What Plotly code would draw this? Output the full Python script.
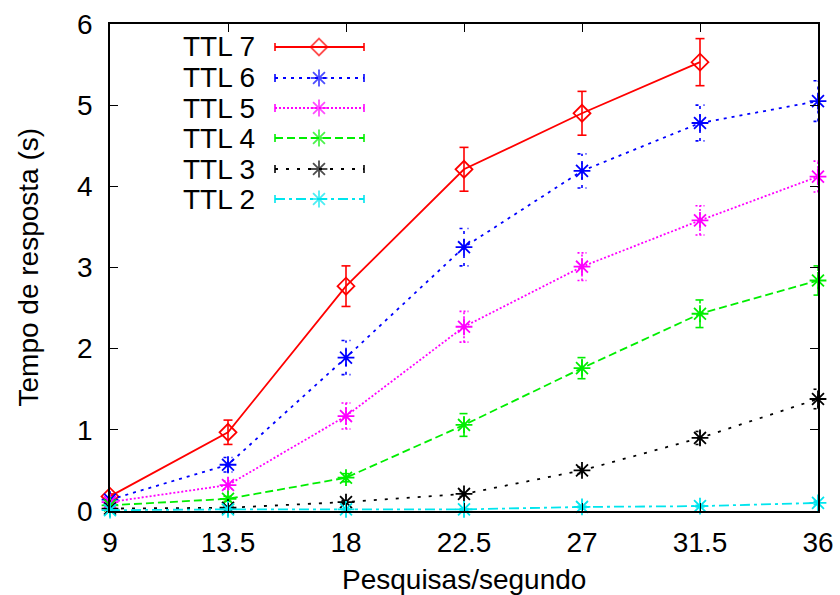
import plotly.graph_objects as go

# Request rate (queries per second)
rates = [9, 13.5, 18, 22.5, 27, 31.5, 36]
tick_labels = ["9", "13.5", "18", "22.5", "27", "31.5", "36"]

# Mean response time (s) and error half-widths per TTL
ttl7 = [0.18, 0.97, 2.77, 4.21, 4.90, 5.53]
ttl7_err = [0.03, 0.15, 0.25, 0.27, 0.27, 0.29]
ttl6 = [0.14, 0.57, 1.89, 3.25, 4.19, 4.78, 5.05]
ttl6_err = [0.03, 0.09, 0.21, 0.23, 0.21, 0.22, 0.25]
ttl5 = [0.11, 0.32, 1.17, 2.27, 3.01, 3.58, 4.12]
ttl5_err = [0.02, 0.05, 0.16, 0.19, 0.17, 0.18, 0.19]
ttl4 = [0.07, 0.15, 0.41, 1.06, 1.76, 2.43, 2.84]
ttl4_err = [0.01, 0.03, 0.05, 0.14, 0.13, 0.17, 0.18]
ttl3 = [0.03, 0.04, 0.11, 0.21, 0.50, 0.90, 1.38]
ttl3_err = [0.01, 0.01, 0.02, 0.03, 0.04, 0.08, 0.12]
ttl2 = [0.01, 0.02, 0.02, 0.02, 0.05, 0.06, 0.10]
ttl2_err = [0.0, 0.0, 0.0, 0.01, 0.01, 0.01, 0.02]

series_names = ["TTL 7", "TTL 6", "TTL 5", "TTL 4", "TTL 3", "TTL 2"]

FONT = "Liberation Sans, Arial, sans-serif"
W, H = 840, 595
L, R, T, B = 110, 22, 24, 84
X_MIN, X_MAX = 9, 36
CAP_X = 4.5 * (X_MAX - X_MIN) / (W - L - R)   # half-width of error caps, data units

styles = [
    dict(color="#ff0000", dash="solid", symbol="diamond-open", size=13),
    dict(color="#0000ff", dash="3px,5px", symbol="asterisk-open", size=14),
    dict(color="#ff00ff", dash="2px,2px", symbol="asterisk-open", size=14),
    dict(color="#00ee00", dash="8px,4px", symbol="asterisk-open", size=14),
    dict(color="#000000", dash="3px,8px", symbol="asterisk-open", size=14),
    dict(color="#00e5ee", dash="10px,4px,3px,4px", symbol="asterisk-open", size=14),
]
values = [ttl7, ttl6, ttl5, ttl4, ttl3, ttl2]
errors = [ttl7_err, ttl6_err, ttl5_err, ttl4_err, ttl3_err, ttl2_err]


def error_path(xs, ys, es):
    """Vertical error bars with end caps, drawn in the series' own line style."""
    px, py = [], []
    for x, y, e in zip(xs, ys, es):
        lo, hi = y - e, y + e
        px += [x, x, None, x - CAP_X, x + CAP_X, None, x - CAP_X, x + CAP_X, None]
        py += [lo, hi, None, lo, lo, None, hi, hi, None]
    return px, py


fig = go.Figure()

for name, ys, es, st in zip(series_names, values, errors, styles):
    xs = rates[:len(ys)]
    ex, ey = error_path(xs, ys, es)
    fig.add_trace(go.Scatter(
        x=ex, y=ey, mode="lines", connectgaps=False,
        line=dict(color=st["color"], width=1.6, dash=st["dash"]),
        cliponaxis=False, showlegend=False, hoverinfo="skip",
    ))
    fig.add_trace(go.Scatter(
        x=xs, y=ys, name=name, mode="lines+markers",
        line=dict(color=st["color"], width=1.8, dash=st["dash"]),
        marker=dict(symbol=st["symbol"], size=st["size"], color=st["color"],
                    line=dict(width=1.8, color=st["color"])),
        cliponaxis=False, showlegend=False,
    ))

# Key in the upper-left corner: label on the left, line sample on the right
def px_to_paper_x(px):
    return (px - L) / (W - L - R)

def px_to_paper_y(py):
    return (H - B - py) / (H - T - B)

key_rows = [47, 78, 108, 138, 169, 199]
sx0, sx1, sxm = px_to_paper_x(275), px_to_paper_x(364), px_to_paper_x(319)
cap = 4.0 / (H - T - B)
for name, st, py in zip(series_names, styles, key_rows):
    yp = px_to_paper_y(py)
    fig.add_trace(go.Scatter(
        x=[sx0, sxm, sx1], y=[yp, yp, yp], mode="lines+markers",
        xaxis="x2", yaxis="y2",
        line=dict(color=st["color"], width=1.8, dash=st["dash"]),
        marker=dict(symbol=st["symbol"], size=[0, st["size"], 0], color=st["color"],
                    line=dict(width=1.8, color=st["color"])),
        error_y=dict(type="data", array=[cap, 0, cap], visible=True,
                     color=st["color"], thickness=1.6, width=0),
        cliponaxis=False, showlegend=False, hoverinfo="skip",
    ))
    fig.add_annotation(
        x=px_to_paper_x(257), y=yp, xref="paper", yref="paper",
        text=name, showarrow=False, xanchor="right", yanchor="middle",
        font=dict(family=FONT, size=28, color="black"),
    )

# Axis titles
fig.add_annotation(
    x=0.5, y=px_to_paper_y(579), xref="paper", yref="paper",
    text="Pesquisas/segundo", showarrow=False, xanchor="center", yanchor="middle",
    font=dict(family=FONT, size=28, color="black"),
)
fig.add_annotation(
    x=px_to_paper_x(28), y=0.5, xref="paper", yref="paper",
    text="Tempo de resposta (s)", showarrow=False, textangle=-90,
    xanchor="center", yanchor="middle",
    font=dict(family=FONT, size=28, color="black"),
)

axis_common = dict(
    showline=True, linecolor="black", linewidth=1.5, mirror="ticks",
    ticks="inside", ticklen=8, tickwidth=1.2, tickcolor="black",
    showgrid=False, zeroline=False, automargin=False,
    tickfont=dict(family=FONT, size=28, color="black"),
)

fig.update_layout(
    width=W, height=H,
    margin=dict(l=L, r=R, t=T, b=B, pad=0),
    paper_bgcolor="white", plot_bgcolor="white",
    font=dict(family=FONT, size=28, color="black"),
    xaxis=dict(range=[X_MIN, X_MAX], tickvals=rates, ticktext=tick_labels,
               ticklabelstandoff=6, **axis_common),
    yaxis=dict(range=[0, 6], tickvals=[0, 1, 2, 3, 4, 5, 6],
               ticklabelstandoff=10, **axis_common),
    xaxis2=dict(overlaying="x", range=[0, 1], visible=False),
    yaxis2=dict(overlaying="y", range=[0, 1], visible=False),
)

fig.write_html("out.html")
